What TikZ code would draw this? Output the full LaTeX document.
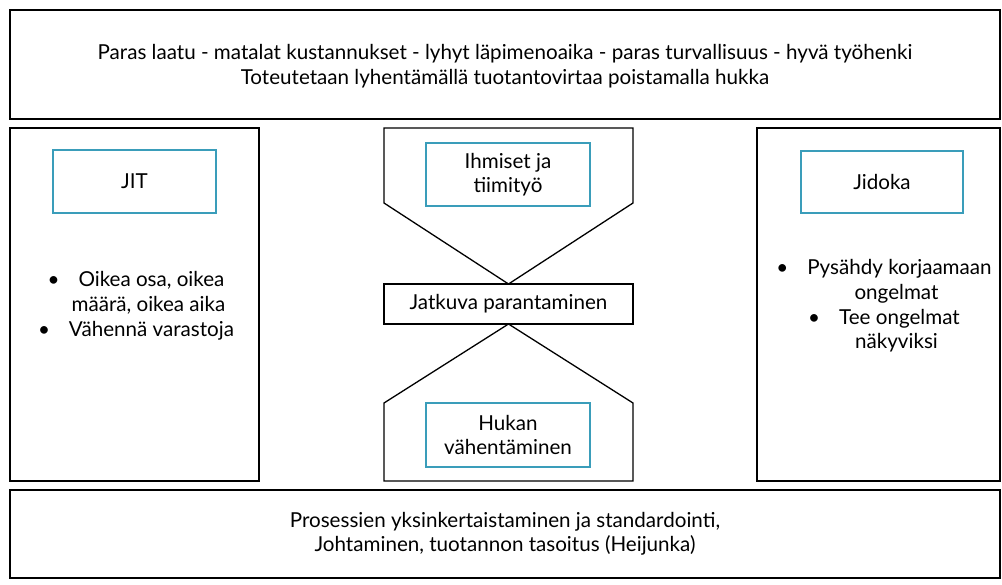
\documentclass[tikz,border=0pt]{standalone}
\usepackage{fontspec}
\setmainfont{Lato}
\usepackage{tikz}
\usetikzlibrary{calc}
\definecolor{tealline}{HTML}{3A9DBA}
\tikzset{%
  frame/.style={draw=black,line width=1.3pt},
  tealbox/.style={draw=tealline,line width=1.4pt,inner sep=0,align=center,font=\fontsize{20.6}{24.5}\selectfont},
  txt/.style={font=\fontsize{20.6}{24.5}\selectfont,align=center,inner sep=0}
}
\newcommand{\blt}{\textbullet\hspace{19pt}}

\begin{document}
\begin{tikzpicture}[x=1pt,y=-1pt]
      \useasboundingbox (0,0) rectangle (1002,585);
      % outer frames
      \draw[frame] (10,10) rectangle (1000,119);
      \draw[frame] (10,128) rectangle (259,481);
      \draw[frame] (757,128) rectangle (1000,481);
      \draw[frame] (10,490) rectangle (1000,578);
      \node[txt] (goal) at (505,66) {Paras laatu - matalat kustannukset - lyhyt läpimenoaika - paras turvallisuus - hyvä työhenki\\
        Toteutetaan lyhentämällä tuotantovirtaa poistamalla hukka};
      \node[txt] (base) at (505,534) {Prosessien yksinkertaistaminen ja standardointi,\\
        Johtaminen, tuotannon tasoitus (Heijunka)};
      % left pillar
      \node[tealbox,minimum width=163pt,minimum height=63pt] (jit) at (134.5,181.5) {JIT};
      \node[txt,font=\fontsize{20.6}{25}\selectfont] (jitlist) at (136,306) {\blt Oikea osa, oikea\\
        \hspace*{25pt}määrä, oikea aika\\
        \blt Vähennä varastoja};
      % right pillar
      \node[tealbox,minimum width=162pt,minimum height=62pt] (jidoka) at (882,182) {Jidoka};
      \node[txt,font=\fontsize{20.6}{24.7}\selectfont] (jidlist) at (884,306) {\blt Pysähdy korjaamaan\\
        \hspace*{25pt}ongelmat\\
        \blt Tee ongelmat\\
        \hspace*{25pt}näkyviksi};
      % middle
      \path
        (384,128) coordinate (t_1)
        (633,128) coordinate (t_2)
        (633,203) coordinate (t_3)
        (508.5,284) coordinate (t_4)
        (384,203) coordinate (t_5)
        (508.5,324) coordinate (b_1)
        (633,403) coordinate (b_2)
        (633,481) coordinate (b_3)
        (384,481) coordinate (b_4)
        (384,403) coordinate (b_5);
      \draw[frame,line join=miter] (t_1) -- (t_2) -- (t_3) -- (t_4) -- (t_5) -- cycle;
      \draw[frame,line join=miter] (b_1) -- (b_2) -- (b_3) -- (b_4) -- (b_5) -- cycle;
      \node[frame,fill=white,txt,minimum width=249pt,minimum height=40pt] (kaizen) at (508.5,304) {Jatkuva parantaminen};
      \node[tealbox,minimum width=164pt,minimum height=63pt] (people) at (508,174.5) {Ihmiset ja\\ tiimityö};
      \node[tealbox,minimum width=164pt,minimum height=64pt] (waste) at (508,435) {Hukan\\ vähentäminen};
\end{tikzpicture}
\end{document}
